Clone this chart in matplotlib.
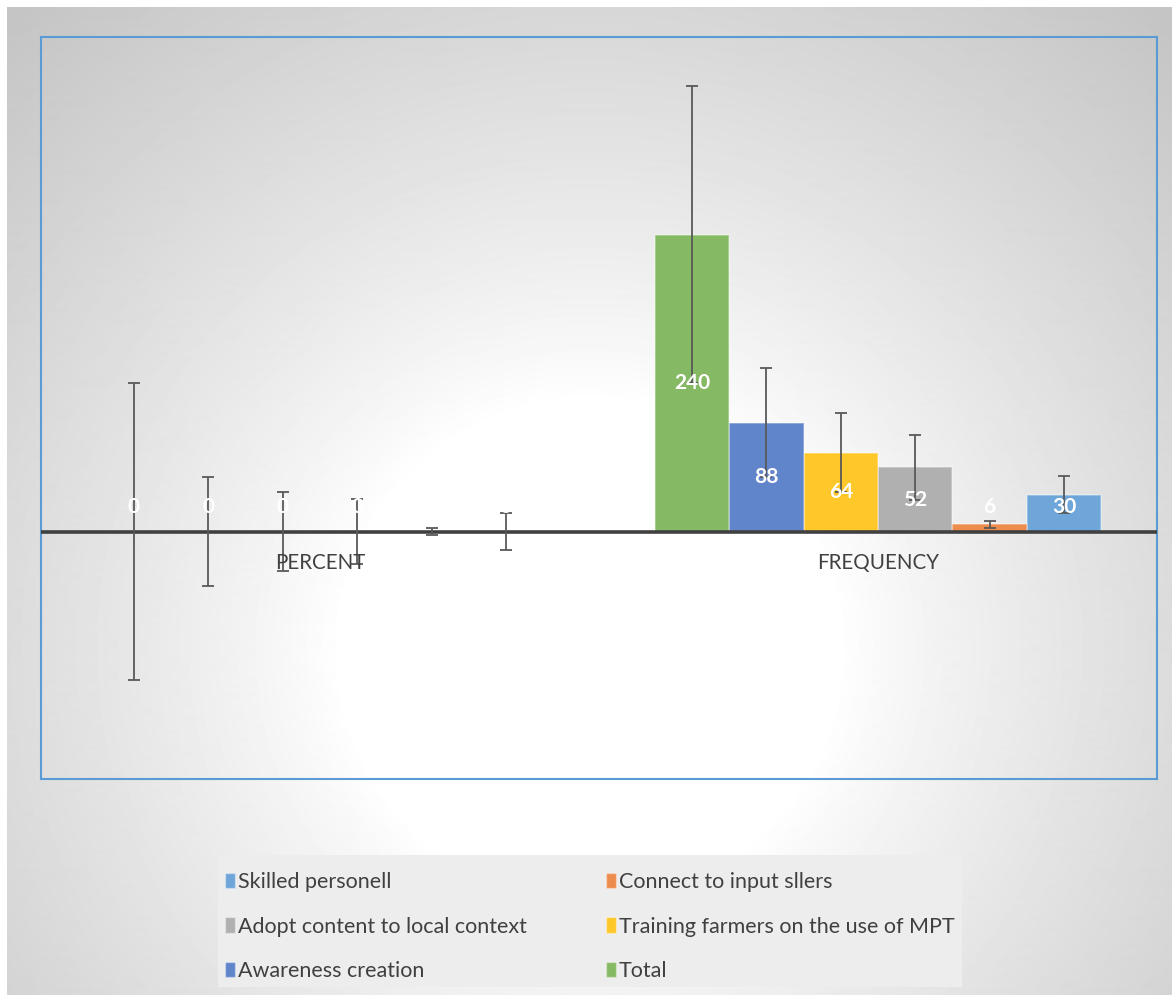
import matplotlib.pyplot as plt
import numpy as np
from matplotlib.patches import Patch, Rectangle

plt.rcParams['font.family'] = ['Lato', 'DejaVu Sans']

# series in legend order
series = ['Skilled personell', 'Connect to input sllers', 'Adopt content to local context',
          'Training farmers on the use of MPT', 'Awareness creation', 'Total']
frequency = [30, 6, 52, 64, 88, 240]
percent = [0.13, 0.03, 0.22, 0.27, 0.37, 0.4]
errors = [15, 3, 26, 32, 44, 120]
categories = ['FREQUENCY', 'PERCENT']   # category axis is reversed
colors = ['#6FA6D9', '#EE8C4D', '#B0B0B0', '#FEC82A', '#6185CB', '#85B963']

W, H = 1175, 996
fig = plt.figure(figsize=(W / 100, H / 100), dpi=100)
fig.patch.set_facecolor('white')

# radial gradient background of the chart area
bg = fig.add_axes([7 / W, 1 / H, 1165 / W, 988 / H])
yy, xx = np.mgrid[7:995, 7:1172]
r = np.hypot(xx - 590, yy - 650)
shade = 255 - 58 * np.clip((r - 250) / 600, 0, 1) ** 0.85
bg.imshow(shade, cmap='gray', vmin=0, vmax=255, aspect='auto', interpolation='bilinear')
bg.axis('off')

ax = fig.add_axes([41 / W, (H - 779) / H, 1116 / W, 742 / H])
ax.set_facecolor('none')
for s in ax.spines.values():
    s.set_color('#5B9BD5')
    s.set_linewidth(1.5)
ax.set_xticks([])
ax.set_yticks([])
ax.set_xlim(-0.5, 1.5)
ax.set_ylim(-200, 400)
ax.invert_xaxis()

cat_x = np.arange(len(categories))
n = len(series)
w = 1 / (n + 1.5)
for i in range(n):
    xs = cat_x + (i - (n - 1) / 2) * w
    vals = [frequency[i], percent[i]]
    ax.bar(xs, vals, width=w, color=colors[i], edgecolor=(1, 1, 1, 0.35), linewidth=1.2, zorder=2)
    ax.errorbar(xs, vals, yerr=errors[i], fmt='none', ecolor='#595959', elinewidth=1.3,
                capsize=4.5, capthick=1.3, zorder=4)
    for x, v in zip(xs, vals):
        ax.text(x, max(v / 2, 20), '%.0f' % v, ha='center', va='center', color='white',
                fontsize=15, fontweight='bold', zorder=5)

ax.axhline(0, color='#404040', lw=2.6, zorder=3)
for x, c in zip(cat_x, categories):
    ax.text(x, -25, c, ha='center', va='center', fontsize=14.8, color='#404040', zorder=5)

# legend
fig.add_artist(Rectangle((218 / W, (H - 987) / H), 744 / W, 132 / H, transform=fig.transFigure,
                         facecolor='#ededed', edgecolor='none', zorder=1))
handles = [Patch(facecolor=c, edgecolor=(1, 1, 1, 0.35)) for c in colors]
for col, x0 in enumerate([225, 606]):
    idx = [col, col + 2, col + 4]
    leg = fig.legend([handles[k] for k in idx], [series[k] for k in idx], loc='upper left',
                     bbox_to_anchor=(x0 / W, (H - 872) / H), frameon=False, fontsize=15.5,
                     handlelength=0.45, handleheight=0.75, handletextpad=0.15,
                     labelspacing=1.14, borderpad=0, borderaxespad=0, labelcolor='#404040')
    leg.set_zorder(2)

fig.savefig('out.png', dpi=100)
